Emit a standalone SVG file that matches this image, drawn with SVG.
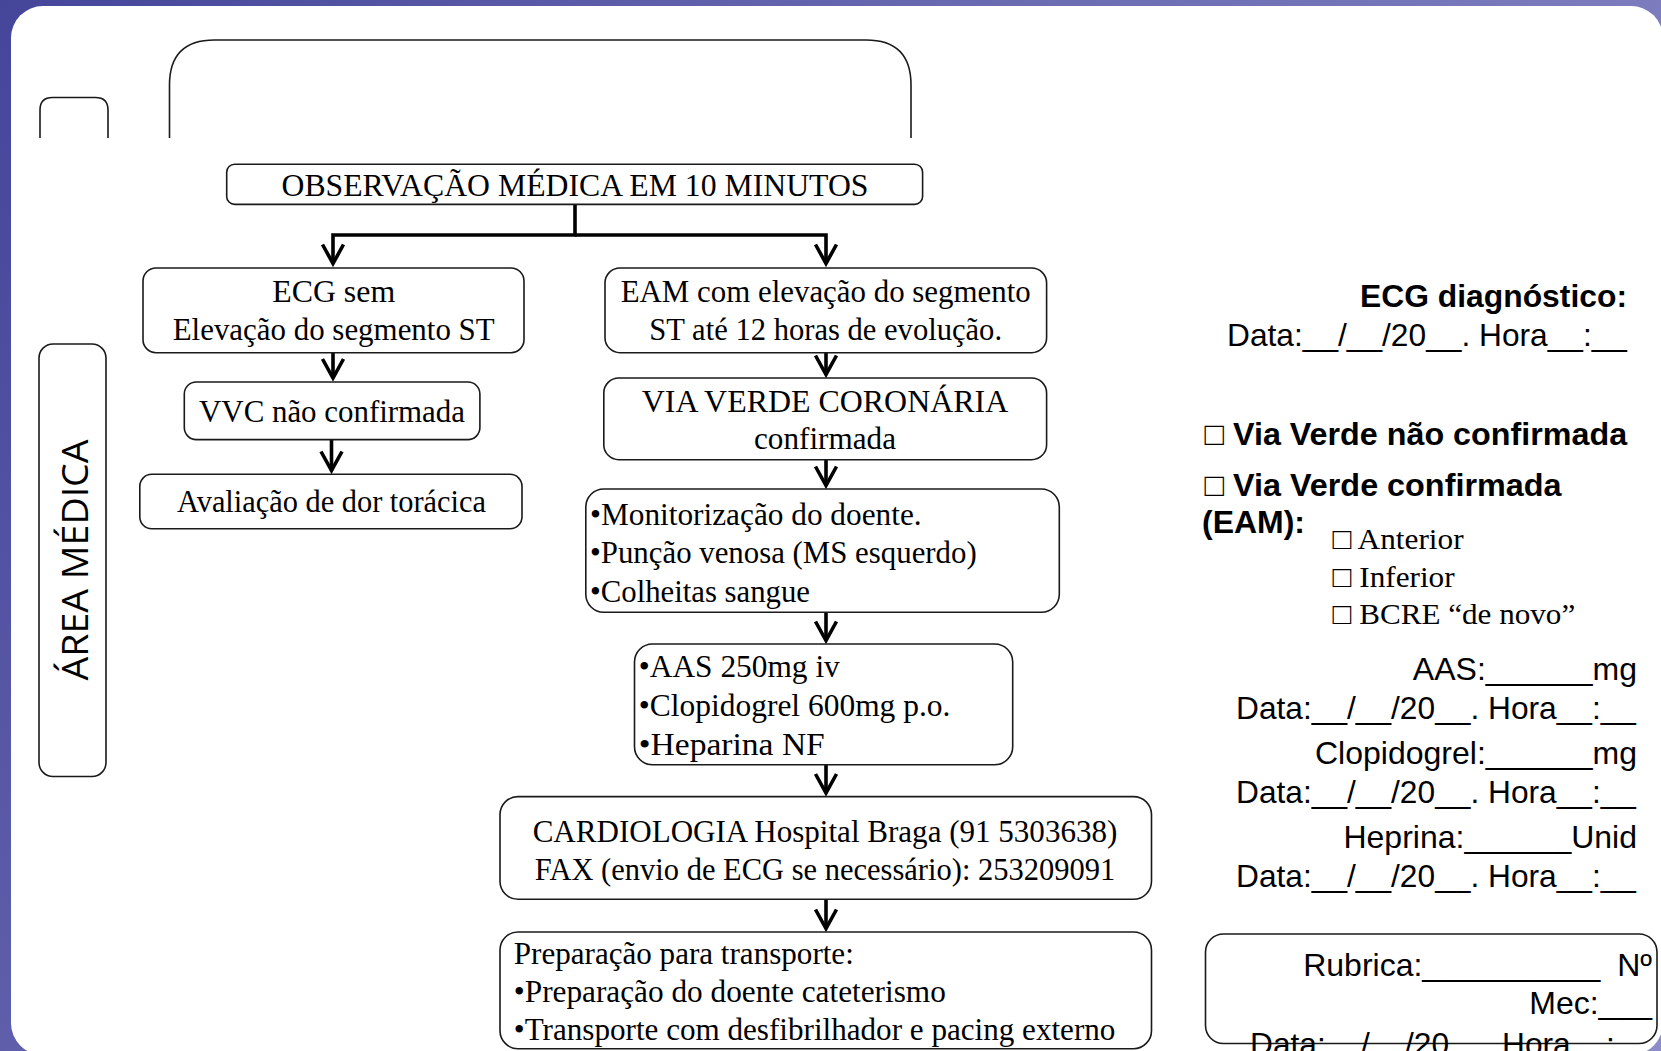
<svg xmlns="http://www.w3.org/2000/svg" width="1661" height="1051" viewBox="0 0 1661 1051">
<defs>
<linearGradient id="bg" gradientUnits="userSpaceOnUse" x1="0" y1="0" x2="1661" y2="1051">
<stop offset="0" stop-color="#45459a"/>
<stop offset="0.45" stop-color="#6c6cb3"/>
<stop offset="1" stop-color="#8c8cc9"/>
</linearGradient>
<marker id="ah" markerUnits="userSpaceOnUse" markerWidth="40" markerHeight="40" viewBox="-30 -20 40 40" refX="0" refY="0" orient="auto">
<path d="M -19 -10.5 L 0 0 L -19 10.5" fill="none" stroke="#000" stroke-width="3.6" stroke-linejoin="miter"/>
</marker>
</defs>
<style>
.box{fill:#fff;stroke:#1a1a1a;stroke-width:1.6}
.open{fill:none;stroke:#1a1a1a;stroke-width:1.6}
.ser{font-family:"Liberation Serif","Times New Roman",serif;font-size:31px;fill:#000}
.sm{font-size:30px}
.sans{font-family:"Liberation Sans",Arial,sans-serif;font-size:32px;fill:#000}
.b{font-weight:bold}
.c{text-anchor:middle}
.e{text-anchor:end}
.con{fill:none;stroke:#000;stroke-width:3.6;stroke-linejoin:miter}
</style>

<g id="frame">
<rect x="0" y="0" width="1661" height="1051" fill="url(#bg)"/>
<rect x="11" y="6" width="1652" height="1049" rx="32" ry="32" fill="#fff"/>
</g>

<g id="header-shapes">
<path class="open" d="M 40 138 V 110 Q 40 97.5 52.5 97.5 H 95.5 Q 108 97.5 108 110 V 138"/>
<path class="open" d="M 169.5 138 V 85 Q 169.5 40 214.5 40 H 866 Q 911 40 911 85 V 138"/>
</g>

<g id="area-medica">
<rect class="box" x="39" y="344" width="67" height="432.5" rx="14"/>
<text transform="translate(87.5,560) rotate(-90)" font-family="'Open Sans','Noto Sans',sans-serif" font-size="36" text-anchor="middle" textLength="241" lengthAdjust="spacingAndGlyphs">ÁREA MÉDICA</text>
</g>

<g id="connectors">
<path class="con" d="M 575 204.5 V 235 H 333 V 263.5" marker-end="url(#ah)"/>
<path class="con" d="M 575 235 H 826 V 263.5" marker-end="url(#ah)"/>
<path class="con" d="M 333 352.7 V 378" marker-end="url(#ah)"/>
<path class="con" d="M 331.5 439.6 V 470.5" marker-end="url(#ah)"/>
<path class="con" d="M 826 352.7 V 374.5" marker-end="url(#ah)"/>
<path class="con" d="M 826 459.7 V 485.5" marker-end="url(#ah)"/>
<path class="con" d="M 826 612.3 V 640.5" marker-end="url(#ah)"/>
<path class="con" d="M 826 764.8 V 793" marker-end="url(#ah)"/>
<path class="con" d="M 826 899.3 V 928.5" marker-end="url(#ah)"/>
</g>

<g id="obs">
<rect class="box" x="226.7" y="164.2" width="695.9" height="40.2" rx="8"/>
<text class="ser c" x="575" y="196" textLength="587" lengthAdjust="spacingAndGlyphs">OBSERVAÇÃO MÉDICA EM 10 MINUTOS</text>
</g>

<g id="ecg-sem">
<rect class="box" x="143" y="268" width="381" height="84.7" rx="13"/>
<text class="ser c" x="333.7" y="302" textLength="123" lengthAdjust="spacingAndGlyphs">ECG sem</text>
<text class="ser c" x="333.7" y="340" textLength="322" lengthAdjust="spacingAndGlyphs">Elevação do segmento ST</text>
</g>

<g id="vvc-nao">
<rect class="box" x="184.3" y="382" width="295.6" height="57.6" rx="12"/>
<text class="ser c" x="332" y="421.5" textLength="266" lengthAdjust="spacingAndGlyphs">VVC não confirmada</text>
</g>

<g id="avaliacao">
<rect class="box" x="139.8" y="474.3" width="382.2" height="54.5" rx="12"/>
<text class="ser c" x="331.5" y="512" textLength="309" lengthAdjust="spacingAndGlyphs">Avaliação de dor torácica</text>
</g>

<g id="eam">
<rect class="box" x="605" y="268" width="441.6" height="84.7" rx="15"/>
<text class="ser c" x="825.7" y="302" textLength="410" lengthAdjust="spacingAndGlyphs">EAM com elevação do segmento</text>
<text class="ser c" x="825.7" y="340" textLength="352.7" lengthAdjust="spacingAndGlyphs">ST até 12 horas de evolução.</text>
</g>

<g id="via-verde">
<rect class="box" x="603.8" y="378" width="442.8" height="81.7" rx="15"/>
<text class="ser c" x="825" y="411.5" textLength="366.5" lengthAdjust="spacingAndGlyphs">VIA VERDE CORONÁRIA</text>
<text class="ser c" x="825" y="449" textLength="142" lengthAdjust="spacingAndGlyphs">confirmada</text>
</g>

<g id="monitorizacao">
<rect class="box" x="585.8" y="489" width="473.5" height="123.3" rx="18"/>
<text class="ser" x="590" y="524.5" textLength="331.6" lengthAdjust="spacingAndGlyphs">•Monitorização do doente.</text>
<text class="ser" x="590" y="563" textLength="386.7" lengthAdjust="spacingAndGlyphs">•Punção venosa (MS esquerdo)</text>
<text class="ser" x="590" y="601.5" textLength="220" lengthAdjust="spacingAndGlyphs">•Colheitas sangue</text>
</g>

<g id="farmacos">
<rect class="box" x="634.5" y="644" width="378.2" height="120.8" rx="18"/>
<text class="ser" x="638.8" y="677" textLength="201" lengthAdjust="spacingAndGlyphs">•AAS 250mg iv</text>
<text class="ser" x="638.8" y="716" textLength="311.6" lengthAdjust="spacingAndGlyphs">•Clopidogrel 600mg p.o.</text>
<text class="ser" x="638.8" y="755" textLength="186" lengthAdjust="spacingAndGlyphs">•Heparina NF</text>
</g>

<g id="cardiologia">
<rect class="box" x="500" y="796.6" width="651.5" height="102.7" rx="18"/>
<text class="ser c" x="825" y="842" textLength="584.7" lengthAdjust="spacingAndGlyphs">CARDIOLOGIA Hospital Braga (91 5303638)</text>
<text class="ser c" x="825" y="880" textLength="580.5" lengthAdjust="spacingAndGlyphs">FAX (envio de ECG se necessário): 253209091</text>
</g>

<g id="transporte">
<rect class="box" x="500" y="932" width="651.5" height="116.7" rx="18"/>
<text class="ser" x="513.8" y="963.5" textLength="340" lengthAdjust="spacingAndGlyphs">Preparação para transporte:</text>
<text class="ser" x="513.8" y="1001.5" textLength="432" lengthAdjust="spacingAndGlyphs">•Preparação do doente cateterismo</text>
<text class="ser" x="513.8" y="1039.5" textLength="601.6" lengthAdjust="spacingAndGlyphs">•Transporte com desfibrilhador e pacing externo</text>
</g>

<g id="registo">
<text class="sans b e" x="1627" y="306.5" textLength="267" lengthAdjust="spacingAndGlyphs">ECG diagnóstico:</text>
<text class="sans e" x="1627" y="346" textLength="400" lengthAdjust="spacingAndGlyphs">Data:__/__/20__. Hora__:__</text>
<text class="sans b" x="1204.5" y="445" textLength="422.6" lengthAdjust="spacingAndGlyphs">□ Via Verde não confirmada</text>
<text class="sans b" x="1204.5" y="496" textLength="357" lengthAdjust="spacingAndGlyphs">□ Via Verde confirmada</text>
<text class="sans b" x="1202" y="533" textLength="103" lengthAdjust="spacingAndGlyphs">(EAM):</text>
<text class="ser sm" x="1332.6" y="549" textLength="131" lengthAdjust="spacingAndGlyphs">□ Anterior</text>
<text class="ser sm" x="1332.6" y="586.5" textLength="122" lengthAdjust="spacingAndGlyphs">□ Inferior</text>
<text class="ser sm" x="1332.6" y="624" textLength="242.6" lengthAdjust="spacingAndGlyphs">□ BCRE “de novo”</text>
<text class="sans e" x="1637" y="680">AAS:______mg</text>
<text class="sans e" x="1636" y="719" textLength="400" lengthAdjust="spacingAndGlyphs">Data:__/__/20__. Hora__:__</text>
<text class="sans e" x="1637" y="764">Clopidogrel:______mg</text>
<text class="sans e" x="1636" y="803" textLength="400" lengthAdjust="spacingAndGlyphs">Data:__/__/20__. Hora__:__</text>
<text class="sans e" x="1637" y="848">Heprina:______Unid</text>
<text class="sans e" x="1636" y="887" textLength="400" lengthAdjust="spacingAndGlyphs">Data:__/__/20__. Hora__:__</text>
</g>

<g id="rubrica">
<rect class="box" x="1205.5" y="934" width="451.5" height="109.5" rx="18"/>
<text class="sans e" x="1652" y="975.5">Rubrica:__________ <tspan dx="8">Nº</tspan></text>
<text class="sans e" x="1652" y="1014">Mec:___</text>
<text class="sans e" x="1650" y="1055" textLength="400" lengthAdjust="spacingAndGlyphs">Data:__/__/20__. Hora__:__</text>
</g>
</svg>
